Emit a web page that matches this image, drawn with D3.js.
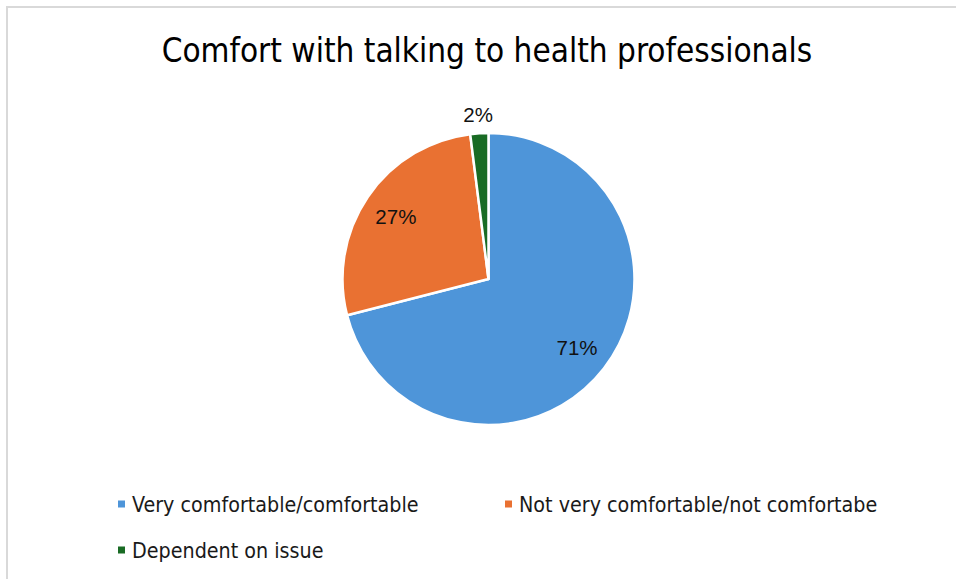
<!DOCTYPE html>
<html>
<head>
<meta charset="utf-8">
<script src="https://cdn.jsdelivr.net/npm/d3@7"></script>
<style>
  html, body { margin: 0; padding: 0; background: #ffffff; }
  svg { display: block; }
</style>
</head>
<body>
<svg id="chart" width="956" height="579"></svg>
<script>
// Survey responses: comfort with talking to health professionals
const categories = [
  "Very comfortable/comfortable",
  "Not very comfortable/not comfortabe",
  "Dependent on issue"
];
const shares = [71, 27, 2];
const colors = ["#4e95d9", "#e97132", "#196b24"];
const titleText = "Comfort with talking to health professionals";

const width = 956, height = 579;
const svg = d3.select("#chart");

const narrowFont = "'Liberation Sans Narrow', 'DejaVu Sans Condensed', 'Arial Narrow', sans-serif";
const labelFont = "'Liberation Sans', Arial, sans-serif";

// chart area frame
svg.append("rect")
  .attr("x", 7).attr("y", 7)
  .attr("width", width + 10).attr("height", height + 10)
  .attr("fill", "#ffffff")
  .attr("stroke", "#d9d9d9")
  .attr("stroke-width", 2);

// title
svg.append("text")
  .attr("x", 487)
  .attr("y", 62)
  .attr("text-anchor", "middle")
  .attr("font-family", narrowFont)
  .attr("font-size", 33)
  .attr("fill", "#000000")
  .text(titleText);

// pie
const cx = 488.5, cy = 279, radius = 146;
const data = categories.map((c, i) => ({ category: c, value: shares[i], color: colors[i] }));

const pie = d3.pie().value(d => d.value).sort(null);
const arcs = pie(data);
const total = d3.sum(shares);

const arc = d3.arc().innerRadius(0).outerRadius(radius);
const insideLabel = d3.arc().innerRadius(112).outerRadius(112);
const outsideLabel = d3.arc().innerRadius(radius + 19).outerRadius(radius + 19);

const g = svg.append("g").attr("transform", `translate(${cx},${cy})`);

g.selectAll("path.slice")
  .data(arcs)
  .join("path")
  .attr("class", "slice")
  .attr("d", arc)
  .attr("fill", d => d.data.color)
  .attr("stroke", "#ffffff")
  .attr("stroke-width", 2.5)
  .attr("stroke-linejoin", "round");

// data labels: small slices get their label outside the pie
g.selectAll("text.label")
  .data(arcs)
  .join("text")
  .attr("class", "label")
  .attr("transform", d => {
    const small = d.data.value / total < 0.05;
    const p = (small ? outsideLabel : insideLabel).centroid(d);
    return `translate(${p[0]},${p[1]})`;
  })
  .attr("text-anchor", "middle")
  .attr("dominant-baseline", "central")
  .attr("font-family", labelFont)
  .attr("font-size", 20.5)
  .attr("fill", "#111111")
  .text(d => d.data.value + "%");

// legend
const legendPos = [
  { x: 118, y: 504 },
  { x: 505, y: 504 },
  { x: 118, y: 550 }
];
const legend = svg.append("g")
  .selectAll("g")
  .data(data)
  .join("g")
  .attr("transform", (d, i) => `translate(${legendPos[i].x},${legendPos[i].y})`);

legend.append("rect")
  .attr("x", 0).attr("y", -3.5)
  .attr("width", 7).attr("height", 7)
  .attr("fill", d => d.color);

legend.append("text")
  .attr("x", 14)
  .attr("y", 0)
  .attr("dominant-baseline", "central")
  .attr("font-family", narrowFont)
  .attr("font-size", 21.3)
  .attr("fill", "#1a1a1a")
  .text(d => d.category);
</script>
</body>
</html>
